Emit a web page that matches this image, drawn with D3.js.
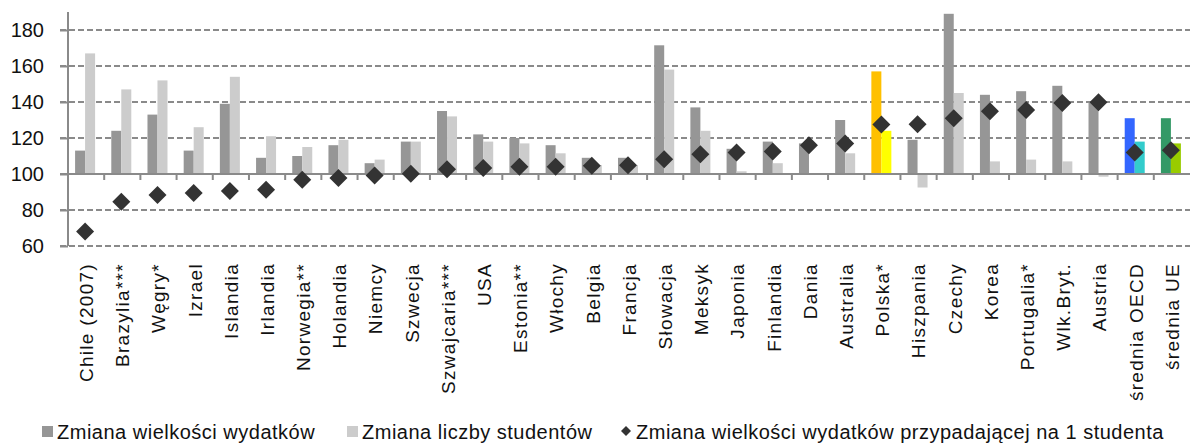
<!DOCTYPE html>
<html>
<head>
<meta charset="utf-8">
<script src="https://cdn.jsdelivr.net/npm/d3@7"></script>
<style>
  html, body { margin: 0; padding: 0; background: #fff; }
  svg { display: block; font-family: "Liberation Sans", Arial, sans-serif; }
</style>
</head>
<body>
<svg id="chart" width="1192" height="444"></svg>
<script>
const categories = ["Chile (2007)", "Brazylia***", "Węgry*", "Izrael", "Islandia", "Irlandia", "Norwegia**", "Holandia", "Niemcy", "Szwecja", "Szwajcaria***", "USA", "Estonia**", "Włochy", "Belgia", "Francja", "Słowacja", "Meksyk", "Japonia", "Finlandia", "Dania", "Australia", "Polska*", "Hiszpania", "Czechy", "Korea", "Portugalia*", "Wlk.Bryt.", "Austria", "średnia OECD", "średnia UE"];
const expenditure = [113, 124, 133, 113, 139, 109, 110, 116, 106, 118, 135, 122, 120, 116, 109, 109, 171.5, 137, 114, 118, 117, 130, 157, 119, 189, 144, 146, 149, 140, 131, 131];
const students = [167, 147, 152, 126, 154, 121, 115, 119, 108, 118, 132, 118, 117, 111.5, 105, 105, 158, 124, 101.5, 106, 100, 111.5, 124, 92.5, 145, 107, 108, 107, 98.5, 118, 117];
const perStudent = [68, 84.6, 88.3, 89.5, 90.6, 91.2, 96.8, 97.8, 99.1, 100.2, 102.6, 103.3, 104, 104, 104.6, 104.8, 108.2, 111, 112, 112.5, 116, 117, 127.5, 127.6, 131, 134.8, 135.5, 139.4, 139.8, 112, 113.2];
const yTicks = [60, 80, 100, 120, 140, 160, 180];
const seriesNames = ["Zmiana wielkości wydatków", "Zmiana liczby studentów", "Zmiana wielkości wydatków przypadającej na 1 studenta"];
const darkColors = {"Polska*": "#FFC000", "średnia OECD": "#3366FF", "średnia UE": "#339966"};
const lightColors = {"Polska*": "#FFFF00", "średnia OECD": "#33CCCC", "średnia UE": "#99CC00"};

const svg = d3.select("#chart");
const x = d3.scaleBand().domain(categories).range([68, 1190]).padding(0);
const y = d3.scaleLinear().domain([60, 190]).range([246, 12]);
const grid = "#8a8a8a";

// gridlines
svg.append("g").selectAll("line").data(yTicks.filter(t => t !== 100)).join("line")
  .attr("x1", 60).attr("x2", 1190)
  .attr("y1", d => y(d)).attr("y2", d => y(d))
  .attr("stroke", grid).attr("stroke-width", 2).attr("stroke-dasharray", "6,3");

// y axis
const yAxis = d3.axisLeft(y).tickValues(yTicks).tickSize(8).tickPadding(16);
const gy = svg.append("g").attr("transform", "translate(68,0)").call(yAxis);
gy.select(".domain").attr("stroke", grid).attr("stroke-width", 2).attr("d", `M0,${y(190)}V${y(60)}`);
gy.selectAll(".tick line").attr("stroke", grid).attr("stroke-width", 2);
gy.selectAll(".tick text").attr("fill", "#111").style("font-size", "20px").attr("font-family", "Liberation Sans, Arial, sans-serif");

// bars
const bw = 10;
svg.append("g").selectAll("rect").data(categories).join("rect")
  .attr("x", d => x(d) + x.bandwidth() / 2 - 11)
  .attr("width", bw)
  .attr("y", (d, i) => y(Math.max(100, expenditure[i])))
  .attr("height", (d, i) => Math.abs(y(expenditure[i]) - y(100)))
  .attr("fill", d => darkColors[d] || "#969696");
svg.append("g").selectAll("rect").data(categories).join("rect")
  .attr("x", d => x(d) + x.bandwidth() / 2 - 1)
  .attr("width", bw)
  .attr("y", (d, i) => y(Math.max(100, students[i])))
  .attr("height", (d, i) => Math.abs(y(students[i]) - y(100)))
  .attr("fill", d => lightColors[d] || "#cccccc");

// x axis at 100
const xAxis = d3.axisBottom(x).tickSize(0).tickFormat("");
const gx = svg.append("g").attr("transform", `translate(0,${y(100)})`).call(xAxis);
gx.select(".domain").attr("stroke", grid).attr("stroke-width", 2).attr("d", `M60,0H1190`);
gx.selectAll(".tick").remove();
svg.append("g").selectAll("line").data(categories.slice(1)).join("line")
  .attr("x1", d => x(d)).attr("x2", d => x(d))
  .attr("y1", y(100)).attr("y2", y(100) + 6)
  .attr("stroke", grid).attr("stroke-width", 2);

// diamonds
const diamond = d3.symbol().type(d3.symbolSquare).size(162);
svg.append("g").selectAll("path").data(categories).join("path")
  .attr("d", diamond)
  .attr("transform", (d, i) => `translate(${x(d) + x.bandwidth() / 2 - 1},${y(perStudent[i])}) rotate(45)`)
  .attr("fill", "#333333");

// category labels
svg.append("g").selectAll("text").data(categories).join("text")
  .attr("transform", d => `translate(${x(d) + x.bandwidth() / 2},263) rotate(-90)`)
  .attr("text-anchor", "end")
  .attr("dy", "0.36em")
  .style("font-size", "19px")
  .style("letter-spacing", "1.3px")
  .attr("fill", "#111")
  .text(d => d);

// legend
const leg = svg.append("g").style("font-size", "20px").attr("fill", "#111");
const legItems = [
  {name: seriesNames[0], type: "rect", color: "#969696", mx: 42, tx: 57},
  {name: seriesNames[1], type: "rect", color: "#cccccc", mx: 347, tx: 362},
  {name: seriesNames[2], type: "diamond", color: "#333333", mx: 626, tx: 636}
];
legItems.forEach(it => {
  if (it.type === "rect") {
    leg.append("rect").attr("x", it.mx).attr("y", 426).attr("width", 11).attr("height", 11).attr("fill", it.color);
  } else {
    leg.append("path").attr("d", d3.symbol().type(d3.symbolSquare).size(50))
      .attr("transform", `translate(${it.mx},431) rotate(45)`).attr("fill", it.color);
  }
  leg.append("text").attr("x", it.tx).attr("y", 439).style("letter-spacing", "0.5px").text(it.name);
});
</script>
</body>
</html>
